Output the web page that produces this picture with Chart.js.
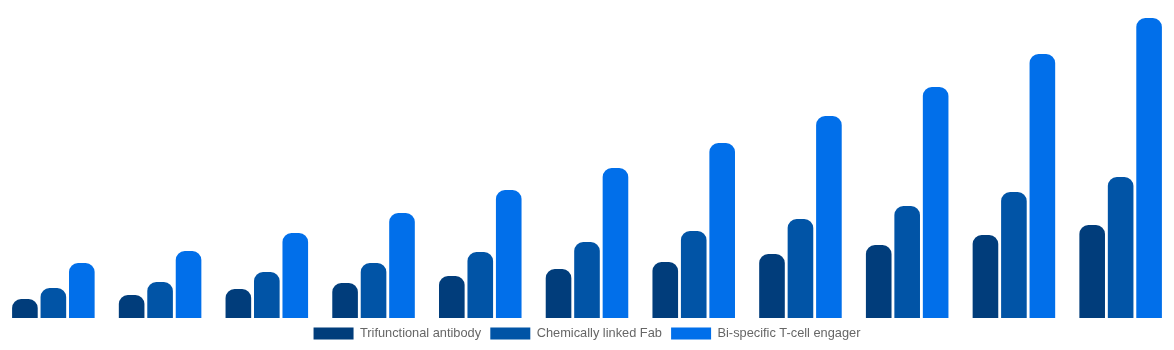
<!DOCTYPE html>
<html>
<head>
<meta charset="utf-8">
<script src="https://cdn.jsdelivr.net/npm/chart.js@4/dist/chart.umd.min.js"></script>
<style>
html,body{margin:0;padding:0;background:#fff;}
#wrap{width:1174px;height:350px;position:relative;}
</style>
</head>
<body>
<div id="wrap"><canvas id="c"></canvas></div>
<script>
const categories = ["2020","2021","2022","2023","2024","2025","2026","2027","2028","2029","2030"];
const trifunctional = [19, 23, 29, 35, 42, 49, 56, 64, 73, 83, 93];
const chemicallyLinked = [30, 36, 46, 55, 66, 76, 87, 99, 112, 126, 141];
const biteEngager = [55, 67, 85, 105, 128, 150, 175, 202, 231, 264, 300];
const seriesNames = ["Trifunctional antibody", "Chemically linked Fab", "Bi-specific T-cell engager"];
const colors = ["#013d7b", "#0154a6", "#016fea"];

Chart.defaults.font.family = "'Liberation Sans', Arial, Helvetica, sans-serif";
Chart.defaults.font.size = 12;
Chart.defaults.color = "#666";

const radius = {topLeft: 9, topRight: 9, bottomLeft: 0, bottomRight: 0};
new Chart(document.getElementById('c'), {
  type: 'bar',
  data: {
    labels: categories,
    datasets: [
      {label: seriesNames[0], data: trifunctional, backgroundColor: colors[0], borderRadius: radius, borderSkipped: false},
      {label: seriesNames[1], data: chemicallyLinked, backgroundColor: colors[1], borderRadius: radius, borderSkipped: false},
      {label: seriesNames[2], data: biteEngager, backgroundColor: colors[2], borderRadius: radius, borderSkipped: false}
    ]
  },
  options: {
    responsive: true,
    maintainAspectRatio: false,
    animation: false,
    layout: {padding: 0},
    categoryPercentage: 0.8,
    barPercentage: 0.9,
    scales: {
      x: {display: false},
      y: {display: false, min: 0, max: 318}
    },
    plugins: {
      tooltip: {enabled: false},
      legend: {
        position: 'bottom',
        labels: {boxWidth: 40, boxHeight: 12, padding: 9.2, color: '#666', font: {size: 12.8}}
      }
    }
  }
});
</script>
</body>
</html>
